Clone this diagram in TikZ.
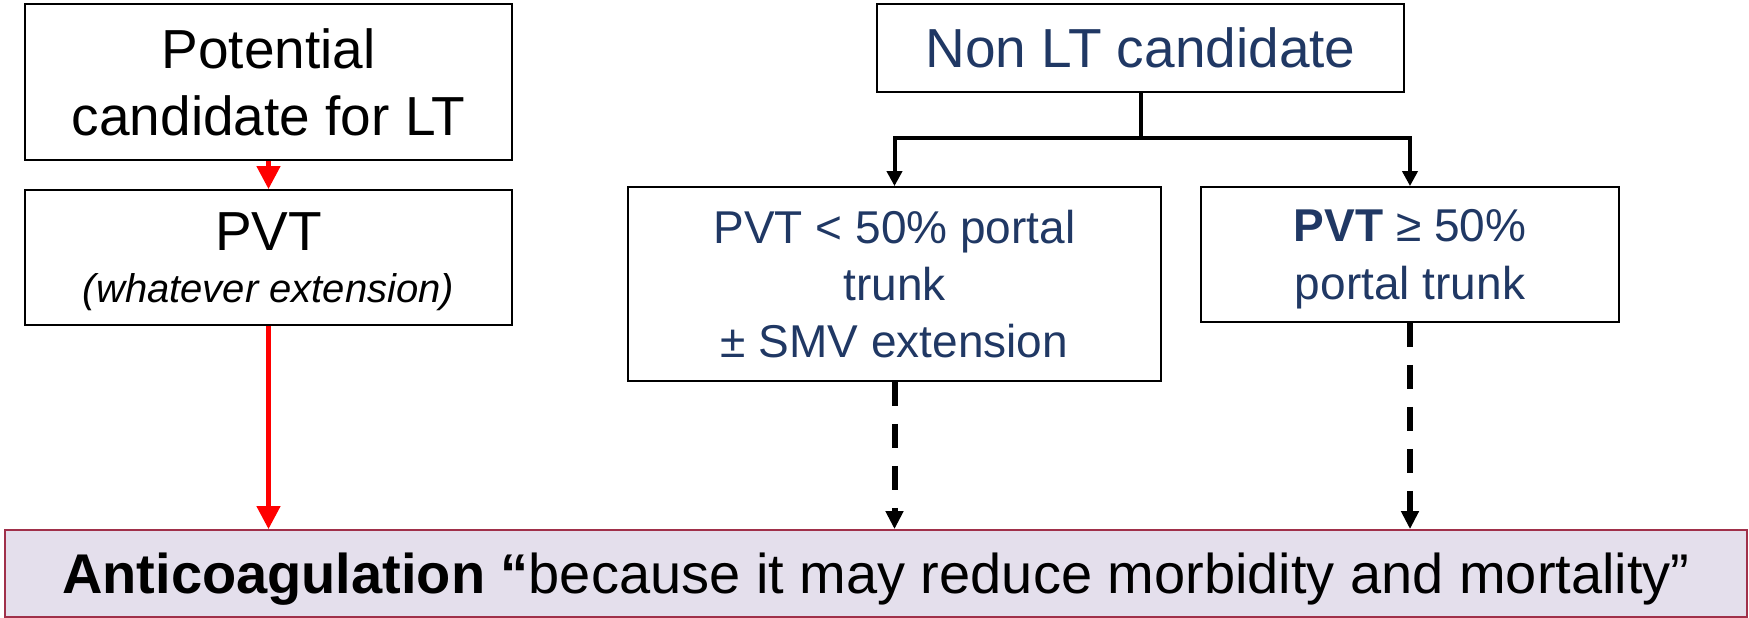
\documentclass[tikz,border=0pt]{standalone}
\usepackage{fontspec}
\setmainfont{Liberation Sans}
\usetikzlibrary{arrows.meta}
\definecolor{NavyText}{HTML}{203864}
\definecolor{LavenderFill}{HTML}{E4DFEC}
\definecolor{CrimsonEdge}{HTML}{A0304A}

\tikzset{
Box/.style={draw=black, fill=white, rectangle, inner 
        sep=0pt, align=center, line width=1.8pt, text depth=0pt},
BlueBox/.style={Box, text=NavyText},
ResultBox/.style={draw=CrimsonEdge, fill=LavenderFill, rectangle, inner 
        sep=0pt, align=center, line width=1.8pt, text depth=0pt},
RedArrow/.style={arrows={-Triangle[length=23pt,width=23pt]},draw=red,line width=4.5pt},
TreeLine/.style={draw=black,line width=4pt},
TreeArrow/.style={arrows={-Triangle[length=15pt,width=15pt]},draw=black,line width=4pt},
DashArrow/.style={arrows={-Triangle[length=18pt,width=17pt]},draw=black,line width=6pt,dash pattern=on 24pt off 18pt},
}

\begin{document}
\begin{tikzpicture}[x=1pt,y=-1pt]
	\useasboundingbox (0,0) rectangle (1749,618);

	% left column
	\node[Box, minimum width=487pt, minimum height=156pt, font=\fontsize{55}{67}\selectfont] (Cand) at (268.5,82) {Potential\\candidate for LT};
	\node[Box, minimum width=487pt, minimum height=135pt, font=\fontsize{55}{52}\selectfont] (Pvt) at (268.5,257.5) {PVT\\{\fontsize{40}{52}\selectfont\itshape (whatever extension)}};

	% right column
	\node[BlueBox, minimum width=527pt, minimum height=88pt, font=\fontsize{55}{66}\selectfont] (NonLT) at (1140.5,48) {Non LT candidate};
	\node[BlueBox, minimum width=533pt, minimum height=194pt, font=\fontsize{46}{57}\selectfont] (PvtLow) at (894.5,284) {PVT < 50\% portal\\trunk\\± SMV extension};
	\node[BlueBox, minimum width=418pt, minimum height=135pt, font=\fontsize{46}{58}\selectfont] (PvtHigh) at (1410,254.5) {{\bfseries PVT} ≥ 50\%\\portal trunk};

	\node[ResultBox, minimum width=1742pt, minimum height=87pt, font=\fontsize{56}{66}\selectfont] (Anticoag) at (876,573.5) {{\bfseries Anticoagulation “}because it may reduce morbidity and mortality”};

	\draw[RedArrow] (Cand.south) -- (Pvt.north);
	\draw[RedArrow] (Pvt.south) -- (Pvt.south |- Anticoag.north);

	\draw[TreeLine] (NonLT.south) -- ++(0,45) coordinate (split);
	\foreach \dest in {PvtLow,PvtHigh}
		\draw[TreeArrow] (split) -| (\dest.north);
	\foreach \source in {PvtLow,PvtHigh}
		\draw[DashArrow] (\source.south) -- (\source.south |- Anticoag.north);
\end{tikzpicture}
\end{document}
